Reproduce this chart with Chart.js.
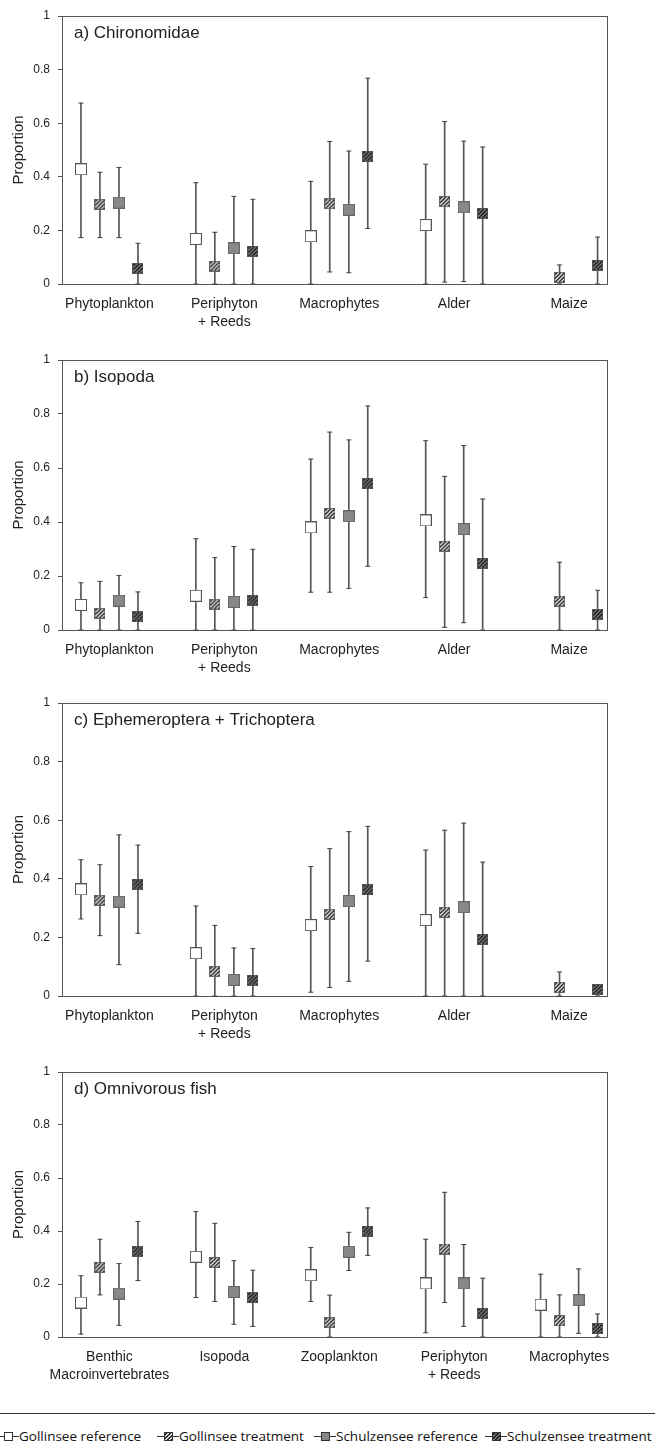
<!DOCTYPE html>
<html>
<head>
<meta charset="utf-8">
<script src="https://cdn.jsdelivr.net/npm/chart.js@4.4.0/dist/chart.umd.min.js"></script>
<style>
  html, body { margin: 0; padding: 0; background: #fff; }
  body { width: 662px; height: 1448px; position: relative; overflow: hidden; }
  .panel { position: absolute; left: 0; width: 662px; }
  .legend-rule { position: absolute; left: 0; width: 655px; top: 1413px; border-top: 1.5px solid #333; }
  .legend-item { position: absolute; top: 1427px; height: 18px; display: flex; align-items: center;
    font: 13.5px "Open Sans", sans-serif; color: #111; white-space: nowrap; }
</style>
</head>
<body>
<div class="panel" style="top:0;height:340px"><canvas id="chartA"></canvas></div>
<div class="panel" style="top:344px;height:342px"><canvas id="chartB"></canvas></div>
<div class="panel" style="top:687px;height:365px"><canvas id="chartC"></canvas></div>
<div class="panel" style="top:1056px;height:337px"><canvas id="chartD"></canvas></div>
<div class="legend-rule"></div>
<div id="legend"></div>
<script>
// series order: Gollinsee reference, Gollinsee treatment, Schulzensee reference, Schulzensee treatment
const seriesNames = ["Gollinsee reference", "Gollinsee treatment", "Schulzensee reference", "Schulzensee treatment"];

const sourcesAC = ["Phytoplankton", ["Periphyton", "+ Reeds"], "Macrophytes", "Alder", "Maize"];
const sourcesD = [["Benthic", "Macroinvertebrates"], "Isopoda", "Zooplankton", ["Periphyton", "+ Reeds"], "Macrophytes"];

// a) Chironomidae
const chiroMean = [
  [0.428, 0.168, 0.178, 0.220, null],
  [0.298, 0.067, 0.299, 0.307, 0.025],
  [0.304, 0.133, 0.277, 0.286, null],
  [0.058, 0.122, 0.477, 0.263, 0.070]
];
const chiroLow = [
  [0.173, 0, 0, 0, null],
  [0.173, 0, 0.045, 0.007, 0],
  [0.173, 0, 0.042, 0.009, null],
  [0, 0, 0.207, 0, 0]
];
const chiroHigh = [
  [0.675, 0.378, 0.383, 0.447, null],
  [0.417, 0.193, 0.532, 0.606, 0.071],
  [0.435, 0.327, 0.496, 0.533, null],
  [0.152, 0.316, 0.768, 0.511, 0.175]
];

// b) Isopoda
const isoMean = [
  [0.093, 0.127, 0.380, 0.406, null],
  [0.062, 0.096, 0.432, 0.311, 0.107],
  [0.109, 0.104, 0.421, 0.374, null],
  [0.049, 0.111, 0.542, 0.247, 0.058]
];
const isoLow = [
  [0, 0, 0.140, 0.120, null],
  [0, 0, 0.140, 0.010, 0],
  [0, 0, 0.154, 0.027, null],
  [0, 0, 0.236, 0, 0]
];
const isoHigh = [
  [0.175, 0.338, 0.633, 0.701, null],
  [0.180, 0.268, 0.733, 0.569, 0.251],
  [0.202, 0.309, 0.704, 0.683, null],
  [0.141, 0.299, 0.830, 0.485, 0.147]
];

// c) Ephemeroptera + Trichoptera
const ephMean = [
  [0.364, 0.146, 0.242, 0.259, null],
  [0.327, 0.084, 0.279, 0.286, 0.030],
  [0.322, 0.055, 0.324, 0.303, null],
  [0.382, 0.054, 0.363, 0.194, 0.023]
];
const ephLow = [
  [0.263, 0, 0.013, 0, null],
  [0.206, 0, 0.029, 0, 0],
  [0.107, 0, 0.050, 0, null],
  [0.214, 0, 0.119, 0, 0]
];
const ephHigh = [
  [0.465, 0.307, 0.442, 0.498, null],
  [0.448, 0.241, 0.503, 0.566, 0.082],
  [0.550, 0.164, 0.561, 0.590, null],
  [0.515, 0.162, 0.579, 0.457, 0.030]
];

// d) Omnivorous fish
const fishMean = [
  [0.130, 0.303, 0.233, 0.202, 0.122],
  [0.264, 0.281, 0.054, 0.332, 0.061],
  [0.164, 0.170, 0.322, 0.202, 0.139],
  [0.324, 0.149, 0.400, 0.090, 0.032]
];
const fishLow = [
  [0.011, 0.149, 0.134, 0.016, 0],
  [0.159, 0.134, 0, 0.130, 0],
  [0.044, 0.048, 0.251, 0.040, 0.014],
  [0.213, 0.040, 0.308, 0, 0]
];
const fishHigh = [
  [0.231, 0.473, 0.338, 0.369, 0.237],
  [0.369, 0.429, 0.158, 0.546, 0.159],
  [0.277, 0.288, 0.395, 0.349, 0.257],
  [0.436, 0.252, 0.487, 0.222, 0.087]
];

const yTicks = [0, 0.2, 0.4, 0.6, 0.8, 1];

Chart.defaults.font.family = '"Liberation Sans", Arial, sans-serif';
Chart.defaults.color = '#222';

// square marker, optionally hatched with "////"
function makeMarker(size, fill, border, stripe) {
  const c = document.createElement('canvas');
  c.width = size; c.height = size;
  const g = c.getContext('2d');
  g.fillStyle = fill;
  g.fillRect(0, 0, size, size);
  if (stripe) {
    g.save();
    g.beginPath(); g.rect(0, 0, size, size); g.clip();
    g.strokeStyle = stripe; g.lineWidth = 1.4;
    for (let k = -size; k < size * 2; k += 3.8) {
      g.beginPath(); g.moveTo(k, size); g.lineTo(k + size, 0); g.stroke();
    }
    g.restore();
  }
  g.strokeStyle = border; g.lineWidth = 1;
  g.strokeRect(0.5, 0.5, size - 1, size - 1);
  return c;
}

const markerStyles = [
  { fill: '#fff', border: '#555', stripe: null, size: 12 },
  { fill: '#fff', border: '#666', stripe: '#111', size: 11 },
  { fill: '#888', border: '#666', stripe: null, size: 12 },
  { fill: '#8a8a8a', border: '#555', stripe: '#111', size: 11 }
];
const markers = markerStyles.map(m => makeMarker(m.size, m.fill, m.border, m.stripe));
// horizontal spread of the four series inside each source group (in category units)
const seriesOffset = [-0.248, -0.083, 0.083, 0.248];

function buildDatasets(means, lows, highs) {
  const sets = [];
  seriesNames.forEach((name, s) => {
    const pts = [], bars = [], caps = [];
    means[s].forEach((m, i) => {
      if (m === null) return;
      const x = i + 1 + seriesOffset[s];
      pts.push({ x, y: m });
      bars.push({ x, y: [lows[s][i], highs[s][i]] });
      caps.push({ x, y: lows[s][i] }, { x, y: highs[s][i] });
    });
    sets.push({ type: 'scatter', label: name, data: pts, pointStyle: markers[s], pointRadius: 6, order: 0, clip: false });
    sets.push({ type: 'scatter', data: caps, pointStyle: 'line', pointRadius: 2.5, borderColor: '#444', borderWidth: 1, order: 1, clip: false });
    sets.push({ type: 'bar', data: bars, backgroundColor: '#555', barThickness: 1, grouped: false, order: 2 });
  });
  return sets;
}

const frame = {
  id: 'frame',
  beforeDatasetsDraw(chart) {
    const { ctx, chartArea: a } = chart;
    ctx.save();
    ctx.strokeStyle = '#555';
    ctx.lineWidth = 1;
    ctx.strokeRect(Math.round(a.left) + 0.5, Math.round(a.top) + 0.5, Math.round(a.width), Math.round(a.height));
    ctx.restore();
  }
};

const panelLabel = {
  id: 'panelLabel',
  afterDraw(chart, args, opts) {
    const { ctx, chartArea } = chart;
    ctx.save();
    ctx.font = '17px "Liberation Sans", Arial, sans-serif';
    ctx.fillStyle = '#222';
    ctx.textBaseline = 'middle';
    ctx.fillText(opts.text, chartArea.left + 12, chartArea.top + 17);
    ctx.restore();
  }
};

function makeChart(id, cats, label, means, lows, highs) {
  new Chart(document.getElementById(id), {
    type: 'scatter',
    data: { datasets: buildDatasets(means, lows, highs) },
    options: {
      responsive: true,
      maintainAspectRatio: false,
      animation: false,
      events: [],
      layout: { padding: { top: 16, right: 55, left: 0, bottom: 0 } },
      plugins: {
        legend: { display: false },
        tooltip: { enabled: false },
        panelLabel: { text: label }
      },
      scales: {
        x: {
          type: 'linear',
          min: 0.587,
          max: 5.33,
          offset: false,
          grid: { display: false, drawTicks: false, offset: false },
          border: { display: false },
          afterBuildTicks: axis => { axis.ticks = cats.map((c, i) => ({ value: i + 1 })); },
          afterFit: axis => { axis.height = 56; },
          ticks: {
            autoSkip: false,
            maxRotation: 0,
            padding: 11,
            color: '#222',
            font: { size: 14, lineHeight: 1.3 },
            callback: v => cats[Math.round(v) - 1]
          }
        },
        y: {
          type: 'linear',
          min: 0,
          max: 1,
          afterBuildTicks: axis => { axis.ticks = yTicks.map(v => ({ value: v })); },
          afterFit: axis => { axis.width = 62; },
          ticks: { padding: 8, color: '#222', font: { size: 12 }, callback: v => String(v) },
          grid: { drawOnChartArea: false, tickLength: 4, color: '#555' },
          border: { display: false },
          title: { display: true, text: 'Proportion', color: '#222', font: { size: 15 }, padding: { top: 10, bottom: 0 } }
        }
      }
    },
    plugins: [frame, panelLabel]
  });
}

makeChart('chartA', sourcesAC, 'a) Chironomidae', chiroMean, chiroLow, chiroHigh);
makeChart('chartB', sourcesAC, 'b) Isopoda', isoMean, isoLow, isoHigh);
makeChart('chartC', sourcesAC, 'c) Ephemeroptera + Trichoptera', ephMean, ephLow, ephHigh);
makeChart('chartD', sourcesD, 'd) Omnivorous fish', fishMean, fishLow, fishHigh);

// legend below the panels
const legendLeft = [-3, 157, 314, 485];
const legend = document.getElementById('legend');
seriesNames.forEach((name, s) => {
  const item = document.createElement('div');
  item.className = 'legend-item';
  item.style.left = legendLeft[s] + 'px';
  const icon = document.createElement('canvas');
  icon.width = 22; icon.height = 12;
  const g = icon.getContext('2d');
  g.strokeStyle = '#333'; g.lineWidth = 1;
  g.beginPath(); g.moveTo(0, 6.5); g.lineTo(22, 6.5); g.stroke();
  const m = markerStyles[s];
  g.drawImage(makeMarker(9, m.fill, '#333', m.stripe), 7, 2);
  item.appendChild(icon);
  const txt = document.createElement('span');
  txt.textContent = name;
  item.appendChild(txt);
  legend.appendChild(item);
});
</script>
</body>
</html>
